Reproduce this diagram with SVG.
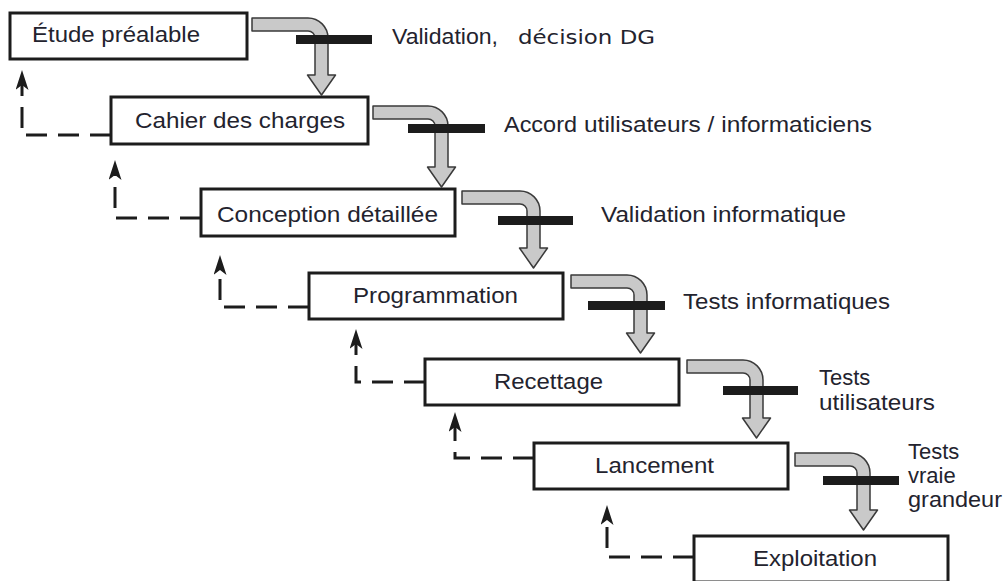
<svg xmlns="http://www.w3.org/2000/svg" width="1007" height="581" viewBox="0 0 1007 581">
  <defs>
    <style>
      .box { fill: #ffffff; stroke: #1c1c1c; stroke-width: 3; }
      .lbl { font-family: "Liberation Sans", Arial, sans-serif; font-size: 22px; fill: #23232e; }
      .flow { fill: #c9c9c9; stroke: #3a3a3a; stroke-width: 1.5; stroke-linejoin: round; }
      .gate { fill: #1c1c1c; }
      .back { fill: none; stroke: #1c1c1c; stroke-width: 3; stroke-dasharray: 21 11; }
    </style>
    <marker id="head" viewBox="0 0 20 13" markerWidth="20" markerHeight="13" markerUnits="userSpaceOnUse" refX="14" refY="6.5" orient="auto">
      <path d="M20 6.5 L0 0 L5 6.5 L0 13 Z" fill="#1c1c1c"/>
    </marker>
  </defs>

  <rect width="1007" height="581" fill="#ffffff"/>

  <!-- Connectors: forward flow arrows with gates, and dashed feedback loops -->
  <g id="connectors">
    <path class="flow" d="M252 18 H308 A20 20 0 0 1 328 38 V75 H335.5 L321.5 95 L307.5 75 H315 V38 A7 7 0 0 0 308 31 H252 Z"/>
    <path class="flow" d="M373 106 H428 A20 20 0 0 1 448 126 V167 H455.5 L441.5 187 L427.5 167 H435 V126 A7 7 0 0 0 428 119 H373 Z"/>
    <path class="flow" d="M462 191 H520 A20 20 0 0 1 540 211 V248 H547.5 L533.5 268 L519.5 248 H527 V211 A7 7 0 0 0 520 204 H462 Z"/>
    <path class="flow" d="M571 275 H627 A20 20 0 0 1 647 295 V333 H654.5 L640.5 353 L626.5 333 H634 V295 A7 7 0 0 0 627 288 H571 Z"/>
    <path class="flow" d="M687 360 H743 A20 20 0 0 1 763 380 V418 H770.5 L756.5 438 L742.5 418 H750 V380 A7 7 0 0 0 743 373 H687 Z"/>
    <path class="flow" d="M795 453 H850 A20 20 0 0 1 870 473 V510 H877.5 L863.5 530 L849.5 510 H857 V473 A7 7 0 0 0 850 466 H795 Z"/>

    <rect class="gate" x="296" y="35" width="76" height="9"/>
    <rect class="gate" x="408" y="124" width="77" height="9"/>
    <rect class="gate" x="498" y="216" width="75" height="9"/>
    <rect class="gate" x="588" y="301" width="77" height="9"/>
    <rect class="gate" x="723" y="386" width="75" height="9"/>
    <rect class="gate" x="823" y="476" width="76" height="9"/>

    <path class="back" marker-end="url(#head)" d="M111 135 H22 V76"/>
    <path class="back" marker-end="url(#head)" d="M201 218 H115 V166"/>
    <path class="back" marker-end="url(#head)" d="M309 307 H220 V261"/>
    <path class="back" marker-end="url(#head)" d="M425 382 H356 V335"/>
    <path class="back" marker-end="url(#head)" d="M534 458 H455 V418"/>
    <path class="back" marker-end="url(#head)" d="M694 557 H607 V511"/>
  </g>

  <!-- Phases -->
  <g id="etude">
    <rect class="box" x="10" y="13" width="237" height="46"/>
    <text class="lbl" x="32" y="42" textLength="168" lengthAdjust="spacingAndGlyphs">Étude préalable</text>
  </g>
  <g id="cahier">
    <rect class="box" x="111" y="97" width="257" height="47"/>
    <text class="lbl" x="135" y="128" textLength="210" lengthAdjust="spacingAndGlyphs">Cahier des charges</text>
  </g>
  <g id="conception">
    <rect class="box" x="201" y="189" width="254" height="47"/>
    <text class="lbl" x="217" y="222" textLength="221" lengthAdjust="spacingAndGlyphs">Conception détaillée</text>
  </g>
  <g id="programmation">
    <rect class="box" x="309" y="273" width="254" height="46"/>
    <text class="lbl" x="353" y="303" textLength="165" lengthAdjust="spacingAndGlyphs">Programmation</text>
  </g>
  <g id="recettage">
    <rect class="box" x="425" y="359" width="254" height="46"/>
    <text class="lbl" x="494" y="389" textLength="109" lengthAdjust="spacingAndGlyphs">Recettage</text>
  </g>
  <g id="lancement">
    <rect class="box" x="534" y="443" width="254" height="46"/>
    <text class="lbl" x="595" y="473" textLength="119" lengthAdjust="spacingAndGlyphs">Lancement</text>
  </g>
  <g id="exploitation">
    <rect class="box" x="694" y="536" width="254" height="46"/>
    <text class="lbl" x="753" y="566" textLength="124" lengthAdjust="spacingAndGlyphs">Exploitation</text>
  </g>

  <!-- Gate labels -->
  <g id="gate-labels">
    <text class="lbl" x="392" y="44" textLength="106" lengthAdjust="spacingAndGlyphs">Validation,</text>
    <text class="lbl" x="518" y="44" textLength="137" lengthAdjust="spacingAndGlyphs" style="font-family:'DejaVu Sans', Verdana, sans-serif;font-size:20px">décision DG</text>
    <text class="lbl" x="504" y="132" textLength="73" lengthAdjust="spacingAndGlyphs">Accord</text>
    <text class="lbl" x="584" y="132" textLength="288" lengthAdjust="spacingAndGlyphs">utilisateurs / informaticiens</text>
    <text class="lbl" x="601" y="222" textLength="245" lengthAdjust="spacingAndGlyphs">Validation informatique</text>
    <text class="lbl" x="683" y="309" textLength="207" lengthAdjust="spacingAndGlyphs">Tests informatiques</text>
    <text class="lbl" x="819" y="385">Tests</text>
    <text class="lbl" x="819" y="410" textLength="116" lengthAdjust="spacingAndGlyphs">utilisateurs</text>
    <text class="lbl" x="908" y="459">Tests</text>
    <text class="lbl" x="908" y="483">vraie</text>
    <text class="lbl" x="908" y="507" textLength="94" lengthAdjust="spacingAndGlyphs">grandeur</text>
  </g>
</svg>
